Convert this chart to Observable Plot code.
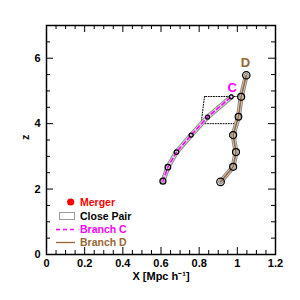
<!DOCTYPE html>
<html>
<head>
<meta charset="utf-8">
<script src="https://cdn.jsdelivr.net/npm/d3@7"></script>
<script src="https://cdn.jsdelivr.net/npm/@observablehq/plot@0.6"></script>
<style>
  html, body { margin: 0; padding: 0; background: white; }
  #chart { width: 300px; height: 300px; }
</style>
</head>
<body>
<div id="chart"></div>
<script>
// ---- data ----
const branchCX = [0.61, 0.636, 0.681, 0.758, 0.844, 0.968];
const branchCZ = [2.24, 2.67, 3.13, 3.65, 4.20, 4.82];
const branchCR = [3.0, 2.8, 2.3, 2.0, 2.0, 2.0];
const branchDX = [0.912, 0.978, 0.993, 0.978, 1.006, 1.02, 1.047];
const branchDZ = [2.22, 2.68, 3.13, 3.65, 4.21, 4.82, 5.48];
const branchDR = [3.8, 3.5, 3.5, 3.5, 3.3, 3.5, 3.7];
const closePairX = [0.828, 0.81, 0.995, 1.02, 0.828];
const closePairZ = [4.83, 4.0, 4.0, 4.83, 4.83];
const branchLabels = ["C", "D"];
const branchLabelX = [0.973, 1.043];
const branchLabelZ = [5.1, 5.86];
const xMajorTicks = [0, 0.2, 0.4, 0.6, 0.8, 1, 1.2];
const zMajorTicks = [0, 2, 4, 6];
const legendLabels = ["Merger", "Close Pair", "Branch C", "Branch D"];

const colC = "#ff00ff", colD = "#996633", colM = "#ff0000";
const W = 300, H = 300, mL = 46, mR = 25, mT = 25, mB = 46;
const xDom = [0, 1.2], zDom = [0, 7];
const pw = W - mL - mR, ph = H - mT - mB;
const xPx = (xDom[1] - xDom[0]) / pw, zPx = (zDom[1] - zDom[0]) / ph;

const C = branchCX.map((x, i) => ({x, z: branchCZ[i], r: branchCR[i]}));
const D = branchDX.map((x, i) => ({x, z: branchDZ[i], r: branchDR[i]}));
const CP = closePairX.map((x, i) => ({x, z: closePairZ[i]}));
const labs = branchLabels.map((t, i) => ({t, x: branchLabelX[i], z: branchLabelZ[i]}));

// minor tick positions derived from major spacing
const xTicks = d3.range(0, 1.2 + 1e-9, 0.05).map(v => +v.toFixed(2));
const zTicks = d3.range(0, 7 + 1e-9, 0.5).map(v => +v.toFixed(1));
const isMajX = v => xMajorTicks.some(t => Math.abs(t - v) < 1e-6);
const isMajZ = v => zMajorTicks.some(t => Math.abs(t - v) < 1e-6);
const majLen = 7, minLen = 4;

const band = (data, col, dash) => [
  Plot.line(data, {x: "x", y: "z", stroke: "#8a8a8a", strokeWidth: 5}),
  Plot.line(data, {x: "x", y: "z", stroke: "#dcdcdc", strokeWidth: 3}),
  Plot.line(data, {x: "x", y: "z", stroke: col, strokeWidth: 1.6, strokeDasharray: dash})
];

const plot = Plot.plot({
  width: W, height: H,
  marginLeft: mL, marginRight: mR, marginTop: mT, marginBottom: mB,
  x: {domain: xDom},
  y: {domain: zDom},
  r: {type: "identity"},
  style: {fontFamily: "'Liberation Sans', Arial, sans-serif", fontSize: "11px", fontWeight: "bold", background: "white"},
  marks: [
    // ticks inside the frame (all four sides)
    Plot.ruleX(xTicks, {x: d => d, y1: zDom[0], y2: d => zDom[0] + (isMajX(d) ? majLen : minLen) * zPx, stroke: "black", strokeWidth: 1}),
    Plot.ruleX(xTicks, {x: d => d, y1: zDom[1], y2: d => zDom[1] - (isMajX(d) ? majLen : minLen) * zPx, stroke: "black", strokeWidth: 1}),
    Plot.ruleY(zTicks, {y: d => d, x1: xDom[0], x2: d => xDom[0] + (isMajZ(d) ? majLen : minLen) * xPx, stroke: "black", strokeWidth: 1}),
    Plot.ruleY(zTicks, {y: d => d, x1: xDom[1], x2: d => xDom[1] - (isMajZ(d) ? majLen : minLen) * xPx, stroke: "black", strokeWidth: 1}),
    Plot.axisX({ticks: xMajorTicks, tickSize: 0, tickPadding: 5, tickFormat: d => String(+d.toFixed(1)), label: null}),
    Plot.axisY({ticks: zMajorTicks, tickSize: 0, tickPadding: 6, tickFormat: d => String(d), label: null}),
    Plot.text(["X [Mpc h⁻¹]"], {frameAnchor: "bottom", dy: 25, text: d => d, fontSize: 11, fontWeight: "bold"}),
    Plot.text(["z"], {frameAnchor: "left", dx: -21, rotate: -90, text: d => d, fontSize: 11, fontWeight: "bold"}),
    // close pair box
    Plot.line(CP, {x: "x", y: "z", stroke: "black", strokeWidth: 1, strokeDasharray: "1,1.6"}),
    ...band(D, colD, null),
    ...band(C, colC, "4,3"),
    Plot.dot(C, {x: "x", y: "z", r: "r", stroke: "black", strokeWidth: 1.2, fill: "none"}),
    Plot.dot(D, {x: "x", y: "z", r: "r", stroke: "black", strokeWidth: 1.2, fill: "none"}),
    Plot.text(labs, {x: "x", y: "z", text: "t", fill: d => d.t === "C" ? colC : colD, fontSize: 13, fontWeight: "bold",
      fontFamily: d => d.t === "D" ? "'Liberation Serif', serif" : "'Liberation Sans', sans-serif"}),
    Plot.frame({stroke: "black", strokeWidth: 1.5})
  ]
});

// legend drawn in pixel space inside the frame
const svg = d3.select(plot);
const g = svg.append("g").attr("font-family", "'Liberation Sans', Arial, sans-serif")
  .attr("font-size", 10.5).attr("font-weight", "bold").attr("text-anchor", "start");
const lx = 80, ly = [202, 216, 229.5, 242.5];
const cols = [colM, "black", colC, colD];
g.append("circle").attr("cx", 70.7).attr("cy", ly[0]).attr("r", 3.6).attr("fill", colM);
g.append("rect").attr("x", 59.5).attr("y", ly[1] - 3.5).attr("width", 15).attr("height", 7)
  .attr("fill", "none").attr("stroke", "black").attr("stroke-width", 0.8).attr("stroke-dasharray", "1,1");
g.append("line").attr("x1", 56).attr("x2", 75).attr("y1", ly[2]).attr("y2", ly[2])
  .attr("stroke", colC).attr("stroke-width", 1.3).attr("stroke-dasharray", "4,3");
g.append("line").attr("x1", 56).attr("x2", 75).attr("y1", ly[3]).attr("y2", ly[3])
  .attr("stroke", colD).attr("stroke-width", 1.3);
legendLabels.forEach((t, i) => {
  g.append("text").attr("x", lx).attr("y", ly[i]).attr("dy", "0.35em").attr("text-anchor", "start")
    .attr("fill", cols[i]).text(t);
});

document.getElementById("chart").appendChild(plot);
</script>
</body>
</html>
